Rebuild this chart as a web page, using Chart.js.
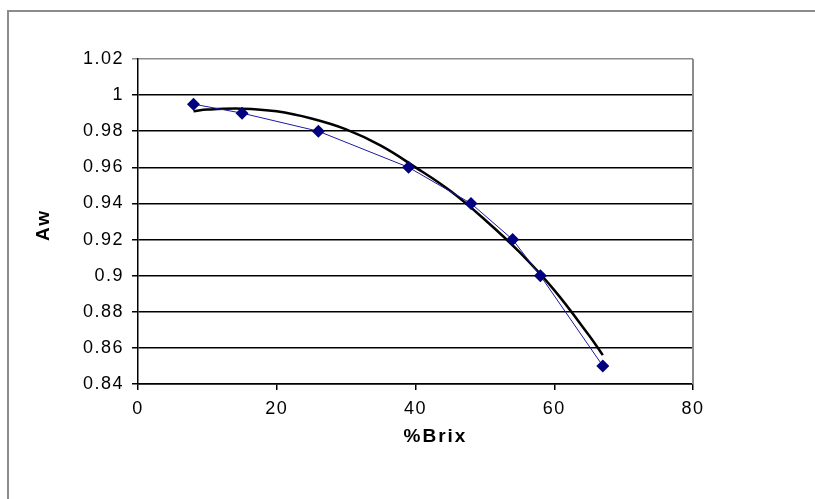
<!DOCTYPE html>
<html>
<head>
<meta charset="utf-8">
<script src="https://cdn.jsdelivr.net/npm/chart.js@4.4.1/dist/chart.umd.min.js"></script>
<style>
  html, body { margin: 0; padding: 0; background: #fff; }
  #wrap { position: relative; width: 815px; height: 499px; overflow: hidden; }
  #frame { position: absolute; left: 7px; top: 10px; width: 900px; height: 600px;
           border-left: 2px solid #8c8c8c; border-top: 2px solid #8c8c8c; }
  canvas { position: absolute; left: 0; top: 0; }
</style>
</head>
<body>
<div id="wrap">
  <div id="frame"></div>
  <canvas id="aw-chart" width="815" height="499"></canvas>
</div>
<script>
// measured points (%Brix vs Aw)
const brix = [8, 15, 26, 39, 48, 54, 58, 67];
const aw = [0.995, 0.99, 0.98, 0.96, 0.94, 0.92, 0.90, 0.85];

// trend line
const trendBrix = [8, 10, 15, 20, 25, 30, 35, 40, 45, 50, 55, 60, 65, 67];
const trendAw = [0.991, 0.992, 0.9925, 0.991, 0.987, 0.981, 0.972, 0.960, 0.947, 0.931, 0.913, 0.892, 0.867, 0.856];

const xTicks = [0, 20, 40, 60, 80];
const yTicks = [0.84, 0.86, 0.88, 0.9, 0.92, 0.94, 0.96, 0.98, 1, 1.02];

const xTitle = '%Brix';
const yTitle = 'Aw';

// the original text is drawn wide, so space the letters a little
const wideText = {
    id: 'wideText',
    beforeUpdate(chart) { chart.ctx.letterSpacing = '1.5px'; },
    beforeDraw(chart) { chart.ctx.letterSpacing = '1.5px'; }
};

// grey right edge of the plot area + axis titles (sit off-centre in the original)
const plotFrame = {
    id: 'plotFrame',
    afterDraw(chart) {
        const a = chart.chartArea;
        const c = chart.ctx;
        c.save();
        c.strokeStyle = '#8c8c8c';
        c.lineWidth = 2;
        c.beginPath();
        c.moveTo(a.right, a.top);
        c.lineTo(a.right, a.bottom);
        c.stroke();

        c.fillStyle = '#000';
        c.font = 'bold 19px "Liberation Sans"';
        c.letterSpacing = '2px';
        c.textAlign = 'center';
        c.textBaseline = 'middle';
        c.fillText(xTitle, a.left + (a.right - a.left) / 2 + 20, 437);
        c.translate(44, 225);
        c.rotate(-Math.PI / 2);
        c.fillText(yTitle, 0, 0);
        c.restore();
    }
};

const ctx = document.getElementById('aw-chart').getContext('2d');
const labelFont = { family: 'Liberation Sans', size: 18 };

const myChart = new Chart(ctx, {
    type: 'scatter',
    data: {
        datasets: [{
            label: 'Trend',
            data: trendBrix.map((x, i) => ({x: x, y: trendAw[i]})),
            showLine: true,
            borderColor: '#000000',
            borderWidth: 2.5,
            pointRadius: 0,
            tension: 0.4,
            order: 1
        }, {
            label: 'Aw',
            data: brix.map((x, i) => ({x: x, y: aw[i]})),
            showLine: true,
            borderColor: '#1a1aa0',
            borderWidth: 1,
            pointStyle: 'rectRot',
            pointRadius: 6.5,
            pointBackgroundColor: '#000080',
            pointBorderColor: '#000080',
            pointBorderWidth: 0,
            order: 0
        }]
    },
    options: {
        responsive: false,
        animation: false,
        events: [],
        layout: { padding: { left: 0, top: 59, right: 122, bottom: 0 } },
        plugins: {
            legend: { display: false },
            tooltip: { enabled: false }
        },
        scales: {
            x: {
                type: 'linear',
                min: 0,
                max: 80,
                afterBuildTicks: s => { s.ticks = xTicks.map(v => ({value: v})); },
                afterFit: s => { s.height = 115; },
                grid: { drawOnChartArea: false, drawTicks: true, tickLength: 6, color: '#000', lineWidth: 1.5 },
                border: { color: '#000', width: 1.5 },
                ticks: { color: '#000', padding: 8, font: labelFont },
                title: { display: false }
            },
            y: {
                type: 'linear',
                min: 0.84,
                max: 1.02,
                afterBuildTicks: s => { s.ticks = yTicks.map(v => ({value: v})); },
                afterFit: s => { s.width = 138; },
                grid: {
                    drawTicks: true,
                    tickLength: 6,
                    lineWidth: 1.5,
                    color: c => (c.tick && c.tick.value === 1.02 ? '#8c8c8c' : '#000')
                },
                border: { color: '#000', width: 1.5 },
                ticks: {
                    color: '#000',
                    padding: 8,
                    font: labelFont,
                    callback: v => String(parseFloat(v.toFixed(2)))
                },
                title: { display: false }
            }
        }
    },
    plugins: [wideText, plotFrame]
});
</script>
</body>
</html>
